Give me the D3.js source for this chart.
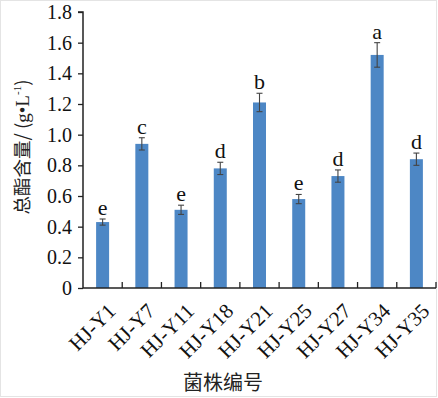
<!DOCTYPE html>
<html><head><meta charset="utf-8">
<script src="https://cdn.jsdelivr.net/npm/d3@7/dist/d3.min.js"></script>
<style>body{margin:0;background:#fff}svg{display:block}</style>
</head><body><svg id="c" width="438" height="398"></svg>
<script>
const categories = ["HJ-Y1","HJ-Y7","HJ-Y11","HJ-Y18","HJ-Y21","HJ-Y25","HJ-Y27","HJ-Y34","HJ-Y35"];
const values = [0.43, 0.94, 0.51, 0.78, 1.21, 0.58, 0.73, 1.52, 0.84];
const errors = [0.02, 0.04, 0.03, 0.04, 0.06, 0.03, 0.04, 0.08, 0.04];
const letters = ["e","c","e","d","b","e","d","a","d"];
const yTicks = [0,0.2,0.4,0.6,0.8,1.0,1.2,1.4,1.6,1.8];
const yTickLabels = ["0","0.2","0.4","0.6","0.8","1.0","1.2","1.4","1.6","1.8"];
const xTitle = "菌株编号";

const svg = d3.select("#c");
const serif = "'Liberation Serif','Times New Roman',serif";
const cjk = "'Noto Sans CJK SC','Noto Sans',sans-serif";
const mLeft = 83, mRight = 436, mTop = 12, mBottom = 288;

svg.append("rect").attr("x",0.5).attr("y",0.5).attr("width",436).attr("height",396)
  .attr("fill","none").attr("stroke","#e4e4e4");

const x = d3.scaleBand().domain(categories).range([mLeft, mRight]).paddingInner(0).paddingOuter(0);
const y = d3.scaleLinear().domain([0, 1.8]).range([mBottom, mTop]);

// y axis
const ya = svg.append("g").attr("transform",`translate(${mLeft},0)`)
  .call(d3.axisLeft(y).tickValues(yTicks).tickFormat((d,i)=>yTickLabels[i]).tickSize(5).tickPadding(6));
ya.select(".domain").attr("stroke","#222").attr("stroke-width",1.5).attr("d",`M-5,${mTop}H0V${mBottom}`);
ya.selectAll(".tick line").attr("stroke","#222").attr("stroke-width",1.3);
ya.selectAll(".tick text").attr("font-family",serif).attr("font-size",20).attr("fill","#111");

// bars
const bw = 13;
svg.append("g").selectAll("rect").data(categories).join("rect")
  .attr("x",d=>x(d)+x.bandwidth()/2-bw/2)
  .attr("width",bw)
  .attr("y",(d,i)=>y(values[i]))
  .attr("height",(d,i)=>y(0)-y(values[i]))
  .attr("fill","#4d87c5");

// error bars
const eg = svg.append("g").attr("stroke","#444").attr("stroke-width",1.1);
categories.forEach((c,i)=>{
  const cx = x(c)+x.bandwidth()/2;
  const y1 = y(values[i]+errors[i]), y2 = y(values[i]-errors[i]);
  eg.append("line").attr("x1",cx).attr("x2",cx).attr("y1",y1).attr("y2",y2);
  eg.append("line").attr("x1",cx-3).attr("x2",cx+3).attr("y1",y1).attr("y2",y1);
  eg.append("line").attr("x1",cx-3).attr("x2",cx+3).attr("y1",y2).attr("y2",y2);
  svg.append("text").attr("x",cx).attr("y",y1-4).attr("text-anchor","middle")
    .attr("font-family",serif).attr("font-size",22).attr("fill","#111").text(letters[i]);
});

// x axis
const xa = svg.append("g").attr("transform",`translate(0,${mBottom})`);
xa.append("line").attr("x1",mLeft).attr("x2",mRight).attr("stroke","#222").attr("stroke-width",1.5);
const bounds = categories.map(c=>x(c)).concat([mRight]);
bounds.slice(1).forEach(b=>{
  xa.append("line").attr("x1",b).attr("x2",b).attr("y1",0).attr("y2",-6).attr("stroke","#222").attr("stroke-width",1.3);
});
categories.forEach(c=>{
  const cx = x(c)+x.bandwidth()/2;
  xa.append("text").attr("transform",`translate(${cx+4},${14}) rotate(-45)`)
    .attr("text-anchor","end").attr("dy","0.7em")
    .attr("font-family",serif).attr("font-size",21).attr("fill","#111").text(c);
});

// titles
svg.append("text").attr("x",223).attr("y",390).attr("text-anchor","middle")
  .attr("font-family",cjk).attr("font-size",20).attr("fill","#222").text(xTitle);
const yt = svg.append("text").attr("transform","translate(29,147) rotate(-90)")
  .attr("text-anchor","middle").attr("font-family",cjk).attr("font-size",18.5).attr("fill","#222");
yt.append("tspan").text("总酯含量/ (");
yt.append("tspan").attr("font-family",serif).attr("font-size",19).text("g•L");
yt.append("tspan").attr("font-family",serif).attr("font-size",11).attr("dy",-8).text("-1");
yt.append("tspan").attr("dy",8).text(")");
</script></body></html>
